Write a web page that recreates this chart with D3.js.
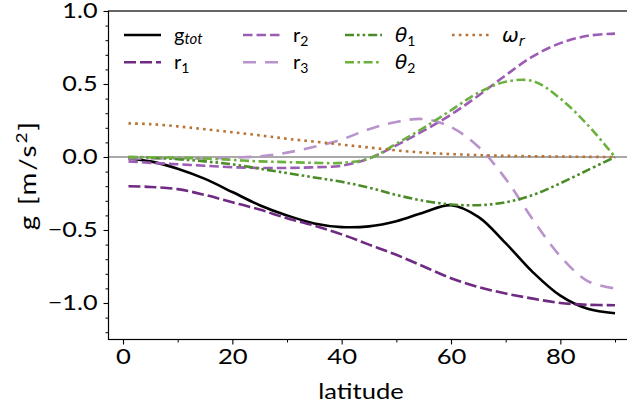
<!DOCTYPE html>
<html>
<head>
<meta charset="utf-8">
<script src="https://cdn.jsdelivr.net/npm/d3@7"></script>
<style>
  html, body { margin: 0; padding: 0; background: #fff; }
  svg { display: block; }
  text { font-family: Lato, "Open Sans", sans-serif; fill: #000; }
  .math { font-family: "DejaVu Sans", sans-serif; font-style: oblique; }
</style>
</head>
<body>
<svg id="chart" width="627" height="404"></svg>
<script>
// ---- data ----
const latitudes = [1, 5, 10, 15, 20, 25, 30, 35, 40, 45, 50, 55, 60, 65, 70, 75, 80, 85, 90];
const gTot   = [-0.01, -0.03, -0.08, -0.15, -0.24, -0.33, -0.40, -0.455, -0.48, -0.475, -0.44, -0.38, -0.33, -0.41, -0.59, -0.79, -0.95, -1.04, -1.07];
const r1     = [-0.20, -0.205, -0.22, -0.26, -0.31, -0.36, -0.42, -0.47, -0.53, -0.60, -0.67, -0.75, -0.83, -0.89, -0.935, -0.97, -1.0, -1.012, -1.015];
const r2     = [-0.03, -0.04, -0.05, -0.06, -0.07, -0.075, -0.075, -0.07, -0.06, -0.01, 0.08, 0.18, 0.29, 0.42, 0.56, 0.69, 0.78, 0.83, 0.845];
const r3     = [-0.01, -0.01, -0.01, -0.01, -0.005, 0.005, 0.03, 0.07, 0.12, 0.19, 0.24, 0.26, 0.205, 0.07, -0.15, -0.43, -0.68, -0.85, -0.90];
const theta1 = [0.0, -0.005, -0.015, -0.03, -0.05, -0.08, -0.11, -0.14, -0.17, -0.21, -0.26, -0.30, -0.325, -0.33, -0.31, -0.26, -0.18, -0.09, 0.0];
const theta2 = [0.0, -0.002, -0.005, -0.01, -0.02, -0.03, -0.035, -0.04, -0.04, -0.01, 0.09, 0.20, 0.32, 0.44, 0.515, 0.52, 0.40, 0.22, 0.0];
const omegaR = [0.23, 0.225, 0.21, 0.19, 0.17, 0.148, 0.125, 0.105, 0.085, 0.065, 0.045, 0.03, 0.02, 0.013, 0.008, 0.005, 0.003, 0.001, 0.0];

const xTicks = [0, 20, 40, 60, 80];
const xMinorTicks = [10, 30, 50, 70, 90];
const yTicks = [1.0, 0.5, 0.0, -0.5, -1.0];
const yMinorTicks = d3.range(-12, 10).map(v => v / 10).filter(v => Math.abs(v * 2 - Math.round(v * 2)) > 1e-9);

const series = [
  { name: "gtot", values: gTot,   color: "#000000", width: 2.6, dash: null },
  { name: "r1",   values: r1,     color: "#6f2a82", width: 2.6, dash: "12,4" },
  { name: "r2",   values: r2,     color: "#9b5cb4", width: 2.6, dash: "9.5,4" },
  { name: "r3",   values: r3,     color: "#b994cc", width: 2.6, dash: "13,9" },
  { name: "t1",   values: theta1, color: "#4b8b28", width: 2.6, dash: "9,3,2.6,3,2.6,3" },
  { name: "t2",   values: theta2, color: "#6cb03e", width: 2.6, dash: "9,3.5,2.6,3.5" },
  { name: "wr",   values: omegaR, color: "#b87333", width: 2.6, dash: "2.6,4.2" }
];

// ---- helper to widen text a little (reference uses a wide font) ----
function stretch(sel, ratio) {
  sel.each(function () {
    const L = this.getComputedTextLength();
    d3.select(this).attr("textLength", L * ratio).attr("lengthAdjust", "spacingAndGlyphs");
  });
}

// ---- layout ----
const svg = d3.select("#chart");
const pLeft = 108.5, pTop = 11, pBottom = 339.5, pRight = 640;
const x = d3.scaleLinear().domain([0, 90]).range([123, 615]);
const y = d3.scaleLinear().domain([-1.25, 1.0]).range([pBottom, pTop]);

// zero line
svg.append("line")
  .attr("x1", pLeft).attr("x2", pRight)
  .attr("y1", y(0)).attr("y2", y(0))
  .attr("stroke", "#8c8c8c").attr("stroke-width", 1.6);

// curves
const line = d3.line().curve(d3.curveCatmullRom.alpha(0.5));
series.forEach(s => {
  const pts = latitudes.map((lat, i) => [x(lat), y(s.values[i])]);
  svg.append("path")
    .attr("d", line(pts))
    .attr("fill", "none")
    .attr("stroke", s.color)
    .attr("stroke-width", s.width)
    .attr("stroke-dasharray", s.dash)
    .attr("stroke-linecap", "butt");
});

// frame
svg.append("rect")
  .attr("x", pLeft).attr("y", pTop)
  .attr("width", pRight - pLeft).attr("height", pBottom - pTop)
  .attr("fill", "none").attr("stroke", "#000").attr("stroke-width", 1.2);

// x axis
const xAxis = d3.axisBottom(x).tickValues(xTicks).tickSize(5).tickPadding(5).tickFormat(d3.format("d"));
const gx = svg.append("g").attr("transform", `translate(0,${pBottom})`).call(xAxis);
gx.select(".domain").remove();
gx.selectAll("text").style("font-size", "21px");
gx.selectAll("line").attr("stroke-width", 1.1);
stretch(gx.selectAll("text"), 1.22);
const xMinor = d3.axisBottom(x).tickValues(xMinorTicks).tickSize(3).tickFormat("");
const gxm = svg.append("g").attr("transform", `translate(0,${pBottom})`).call(xMinor);
gxm.select(".domain").remove();
gxm.selectAll("line").attr("stroke-width", 1);

// y axis
const yAxis = d3.axisLeft(y).tickValues(yTicks).tickSize(5).tickPadding(6)
  .tickFormat(d => d3.format(".1f")(d).replace("-", "\u2212"));
const gy = svg.append("g").attr("transform", `translate(${pLeft},0)`).call(yAxis);
gy.select(".domain").remove();
gy.selectAll("text").style("font-size", "21px");
gy.selectAll("line").attr("stroke-width", 1.1);
stretch(gy.selectAll("text"), 1.2);
const yMinor = d3.axisLeft(y).tickValues(yMinorTicks).tickSize(3).tickFormat("");
const gym = svg.append("g").attr("transform", `translate(${pLeft},0)`).call(yMinor);
gym.select(".domain").remove();
gym.selectAll("line").attr("stroke-width", 1);

// axis labels
const xl = svg.append("text").attr("x", 361).attr("y", 399)
  .attr("text-anchor", "middle").style("font-size", "22px").text("latitude");
stretch(xl, 1.16);

const yCenter = (pTop + pBottom) / 2;
const yl = svg.append("text")
  .attr("text-anchor", "middle").style("font-size", "23px").style("letter-spacing", "1.6px");
yl.append("tspan").text("g [m/s");
yl.append("tspan").attr("dy", -9).style("font-size", "16px").text("2");
yl.append("tspan").attr("dy", 9).text("]");
const ylLen = yl.node().getComputedTextLength();
const ylScale = Math.min(1.2, 114 / ylLen);
yl.attr("transform", `translate(36,${yCenter}) rotate(-90) scale(${ylScale},1)`);

// legend
const legendItems = [
  { s: 0, col: 0, row: 0, label: [["g", ""], ["tot", "subi"]] },
  { s: 1, col: 0, row: 1, label: [["r", ""], ["1", "sub"]] },
  { s: 2, col: 1, row: 0, label: [["r", ""], ["2", "sub"]] },
  { s: 3, col: 1, row: 1, label: [["r", ""], ["3", "sub"]] },
  { s: 4, col: 2, row: 0, label: [["\u03B8", "math"], ["1", "sub"]] },
  { s: 5, col: 2, row: 1, label: [["\u03B8", "math"], ["2", "sub"]] },
  { s: 6, col: 3, row: 0, label: [["\u03C9", "math"], ["r", "submath"]] }
];
const colX = [124, 243, 345, 452];
const rowY = [35, 62.3];
const lg = svg.append("g");
legendItems.forEach(it => {
  const s = series[it.s];
  const lx = colX[it.col], ly = rowY[it.row];
  lg.append("line").attr("x1", lx).attr("x2", lx + 37).attr("y1", ly).attr("y2", ly)
    .attr("stroke", s.color).attr("stroke-width", s.width).attr("stroke-dasharray", s.dash);
  const t = lg.append("text").attr("x", lx + 50).attr("y", ly + 7).style("font-size", "20px");
  it.label.forEach(([txt, kind]) => {
    const sp = t.append("tspan").text(txt);
    if (kind === "math") sp.attr("class", "math").style("font-size", "20px");
    if (kind === "sub") sp.attr("dy", 4).style("font-size", "14px");
    if (kind === "subi") sp.attr("dy", 2).style("font-size", "15px").style("font-style", "italic");
    if (kind === "submath") sp.attr("class", "math").attr("dy", 4).style("font-size", "14px");
  });
});
</script>
</body>
</html>
